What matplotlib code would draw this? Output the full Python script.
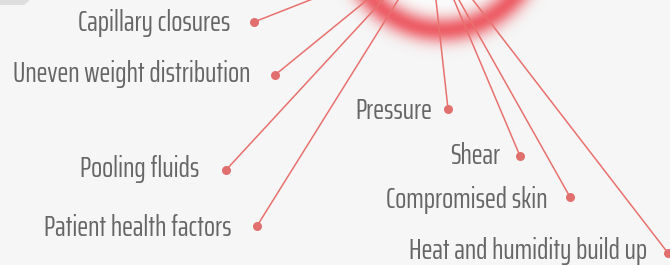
import numpy as np
import matplotlib
matplotlib.use("Agg")
import matplotlib.pyplot as plt

# ── Data ──────────────────────────────────────────────────────────────────────
labels = ["Capillary closures", "Uneven weight distribution", "Pooling fluids",
          "Patient health factors", "Pressure", "Shear", "Compromised skin",
          "Heat and humidity build up"]
# dot position (px) for each cause
dot_x = [254, 275, 226, 257, 448, 520, 570, 668]
dot_y = [22, 75, 170, 226, 109, 156, 197, 253]
# where each spoke leaves the top edge (px at y=0)
top_x = [310, 367, 383, 398, 436, 454, 459, 473]
# label anchor: right edge and baseline (px)
label_x = [230, 250, 199, 232, 432, 500, 547, 647]
label_y = [31, 82, 177, 236, 119, 164, 208, 259]

W, H = 670, 265
BG = "#f6f6f6"
SPOKE = "#e8716f"
DOT = "#e06f6d"
TEXT = "#666666"

plt.rcParams["font.family"] = ["Saira ExtraCondensed", "DejaVu Sans"]

fig = plt.figure(figsize=(W / 100, H / 100), dpi=100, facecolor=BG)
ax = fig.add_axes([0, 0, 1, 1])
ax.set_xlim(0, W)
ax.set_ylim(H, 0)
ax.set_facecolor(BG)
ax.axis("off")

# ── Glowing ring ──────────────────────────────────────────────────────────────
cx, cy, R = 442, -65, 95
yy, xx = np.mgrid[0:H, 0:W] + 0.5
d = np.hypot(xx - cx, yy - cy)
glow = np.exp(-((d - R) / 13.0) ** 2)
rgba = np.zeros((H, W, 4))
rgba[..., 0] = 236 / 255
rgba[..., 1] = 68 / 255
rgba[..., 2] = 78 / 255
rgba[..., 3] = 0.85 * glow
inner = np.clip((R - 10 - d) / 14, 0, 1)
white = np.ones((H, W, 4))
white[..., 3] = 0.7 * inner
ax.imshow(white, extent=(0, W, H, 0), zorder=1, interpolation="bilinear")
ax.imshow(rgba, extent=(0, W, H, 0), zorder=2, interpolation="bilinear")

# small grey tab top-left
ax.fill([0, 30, 24, 0], [0, 0, 5, 5], color="#dedede", zorder=1, lw=0)

# ── Spokes, dots, labels ──────────────────────────────────────────────────────
for i, lab in enumerate(labels):
    x0, y0 = dot_x[i], dot_y[i]
    x1 = top_x[i]
    # extend the spoke a little past the top edge
    k = (x1 - x0) / (0 - y0)
    ax.plot([x0, x0 + k * (-20 - y0)], [y0, -20], color=SPOKE, lw=1.1,
            zorder=3, solid_capstyle="butt")
    ax.scatter(x0, y0, s=42, color=DOT, zorder=4, linewidths=0)
    ax.text(label_x[i], label_y[i], lab, ha="right", va="baseline",
            fontsize=21, color=TEXT, zorder=5)

fig.savefig("out.png", dpi=100, facecolor=BG)
